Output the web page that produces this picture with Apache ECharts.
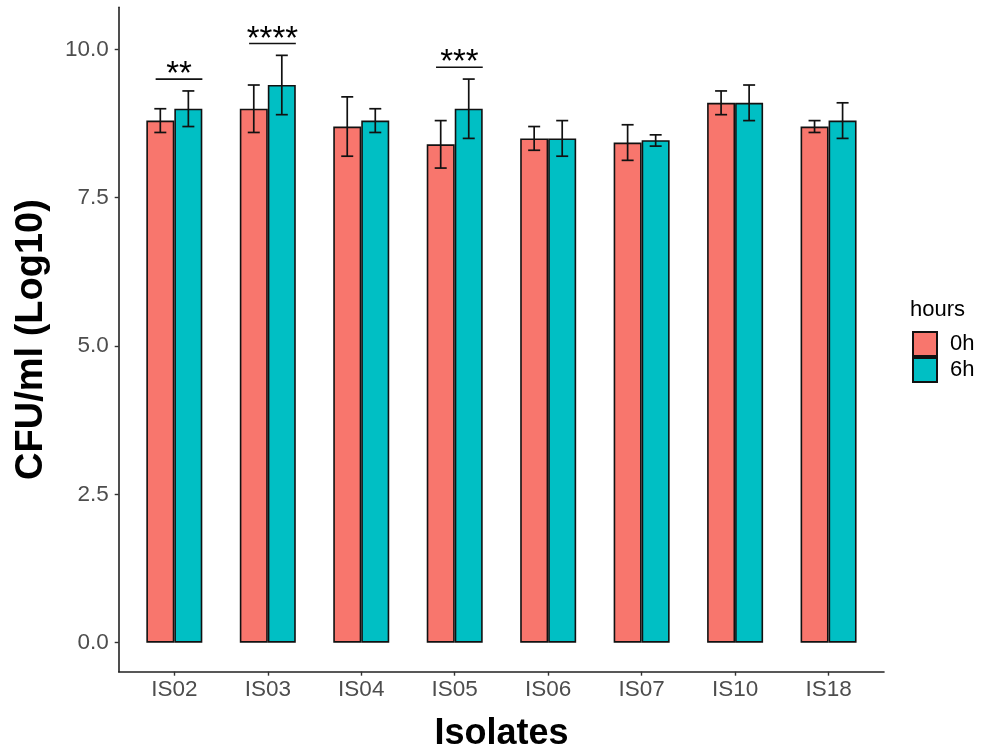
<!DOCTYPE html>
<html>
<head>
<meta charset="utf-8">
<script src="https://cdn.jsdelivr.net/npm/echarts@6/dist/echarts.min.js"></script>
<style>html,body{margin:0;padding:0;background:#fff;}#c{width:982px;height:756px;}</style>
</head>
<body>
<div id="c"></div>
<script>
const categories = ['IS02','IS03','IS04','IS05','IS06','IS07','IS10','IS18'];
const seriesNames = ['0h','6h'];
const mean0h = [8.8, 9.0, 8.7, 8.4, 8.5, 8.43, 9.1, 8.7];
const mean6h = [9.0, 9.4, 8.8, 9.0, 8.5, 8.47, 9.1, 8.8];
const low0h  = [8.6, 8.6, 8.2, 8.0, 8.3, 8.13, 8.9, 8.6];
const high0h = [9.0, 9.4, 9.2, 8.8, 8.7, 8.73, 9.3, 8.8];
const low6h  = [8.7, 8.9, 8.6, 8.5, 8.2, 8.37, 8.8, 8.5];
const high6h = [9.3, 9.9, 9.0, 9.5, 8.8, 8.56, 9.4, 9.1];
const sigCategories = ['IS02','IS03','IS05'];
const sigHeights = [9.5, 10.1, 9.7];
const sigLabels = ['**','****','***'];
const yTicks = [0, 2.5, 5, 7.5, 10];

const FONT = 'Liberation Sans';
const colors = ['#F8766D', '#00BFC4'];

function errData(lo, hi) { return lo.map((v, i) => [i, v, hi[i]]); }

function errRender(off) {
  return function (params, api) {
    const i = api.value(0);
    const lo = api.coord([i, api.value(1)]);
    const hi = api.coord([i, api.value(2)]);
    const band = api.size([1, 0])[0];
    const x = lo[0] + off * band;
    const cap = 6;
    const st = { stroke: '#111', lineWidth: 1.7 };
    return {
      type: 'group',
      children: [
        { type: 'line', shape: { x1: x, y1: lo[1], x2: x, y2: hi[1] }, style: st },
        { type: 'line', shape: { x1: x - cap, y1: lo[1], x2: x + cap, y2: lo[1] }, style: st },
        { type: 'line', shape: { x1: x - cap, y1: hi[1], x2: x + cap, y2: hi[1] }, style: st }
      ]
    };
  };
}

const chart = echarts.init(document.getElementById('c'), null, { renderer: 'canvas' });
chart.setOption({
  backgroundColor: '#fff',
  animation: false,
  textStyle: { fontFamily: FONT },
  title: {
    text: 'hours', left: 910, top: 299, padding: 0,
    textStyle: { fontFamily: FONT, fontSize: 22, fontWeight: 'normal', color: '#000' }
  },
  legend: {
    orient: 'vertical', left: 912, top: 331, padding: 0,
    itemWidth: 24, itemHeight: 24, itemGap: 0,
    icon: 'rect',
    data: seriesNames,
    textStyle: { fontFamily: FONT, fontSize: 22, color: '#000', padding: [0, 0, 0, 8] }
  },
  grid: [
    { left: 127.6, top: 7.3, width: 747.7, height: 664.4, containLabel: false, outerBoundsMode: 'none' },
    { left: 118.7, top: 7.3, width: 765.3, height: 664.4, containLabel: false, outerBoundsMode: 'none' }
  ],
  xAxis: [
    {
      type: 'category', data: categories, gridIndex: 0,
      axisLine: { show: false, onZero: false },
      axisTick: { show: true, alignWithLabel: true, length: 4, lineStyle: { color: '#333', width: 1.4 } },
      axisLabel: { fontFamily: FONT, fontSize: 22.5, color: '#4D4D4D', margin: 7 },
      name: 'Isolates', nameLocation: 'middle', nameGap: 44,
      nameTextStyle: { fontFamily: FONT, fontSize: 36, fontWeight: 'bold', color: '#000' }
    },
    {
      type: 'value', gridIndex: 1, min: 0, max: 1,
      axisLine: { show: true, onZero: false, lineStyle: { color: '#222', width: 1.6 } },
      axisTick: { show: false }, axisLabel: { show: false }, splitLine: { show: false }
    }
  ],
  yAxis: [
    {
      type: 'value', gridIndex: 0, min: -0.49, max: 10.71, offset: 8.9,
      axisLine: { show: true, lineStyle: { color: '#222', width: 1.6 } },
      axisTick: { show: true, length: 4, customValues: yTicks, lineStyle: { color: '#333', width: 1.4 } },
      axisLabel: { fontFamily: FONT, fontSize: 22.5, color: '#4D4D4D', margin: 10,
        customValues: yTicks, formatter: v => Number(v).toFixed(1) },
      splitLine: { show: false },
      name: 'CFU/ml (Log10)', nameLocation: 'middle', nameGap: 68,
      nameTextStyle: { fontFamily: FONT, fontSize: 38, fontWeight: 'bold', color: '#000' }
    },
    { type: 'value', gridIndex: 1, show: false, min: 0, max: 1 }
  ],
  series: [
    {
      name: '0h', type: 'bar', data: mean0h, barWidth: 28, barGap: '0%',
      itemStyle: { color: colors[0], borderColor: '#111', borderWidth: 1.6 }
    },
    {
      name: '6h', type: 'bar', data: mean6h, barWidth: 28, barGap: '0%',
      itemStyle: { color: colors[1], borderColor: '#111', borderWidth: 1.6 }
    },
    {
      type: 'custom', name: 'err0h', data: errData(low0h, high0h), z: 5,
      encode: { x: 0, y: [1, 2] }, renderItem: errRender(-0.15)
    },
    {
      type: 'custom', name: 'err6h', data: errData(low6h, high6h), z: 5,
      encode: { x: 0, y: [1, 2] }, renderItem: errRender(0.15)
    },
    {
      type: 'custom', name: 'sig', z: 6,
      data: sigCategories.map((c, k) => [categories.indexOf(c), sigHeights[k]]),
      encode: { x: 0, y: 1 },
      renderItem: function (params, api) {
        const p = api.coord([api.value(0), api.value(1)]);
        const band = api.size([1, 0])[0];
        const x1 = p[0] - 0.2 * band, x2 = p[0] + 0.3 * band;
        return {
          type: 'group',
          children: [
            { type: 'line', shape: { x1: x1, y1: p[1], x2: x2, y2: p[1] }, style: { stroke: '#111', lineWidth: 1.6 } },
            { type: 'text', style: { text: sigLabels[params.dataIndex], x: (x1 + x2) / 2, y: p[1] - 4,
              align: 'center', verticalAlign: 'middle', fontFamily: FONT, fontSize: 33, fill: '#000' } }
          ]
        };
      }
    }
  ]
});
</script>
</body>
</html>
